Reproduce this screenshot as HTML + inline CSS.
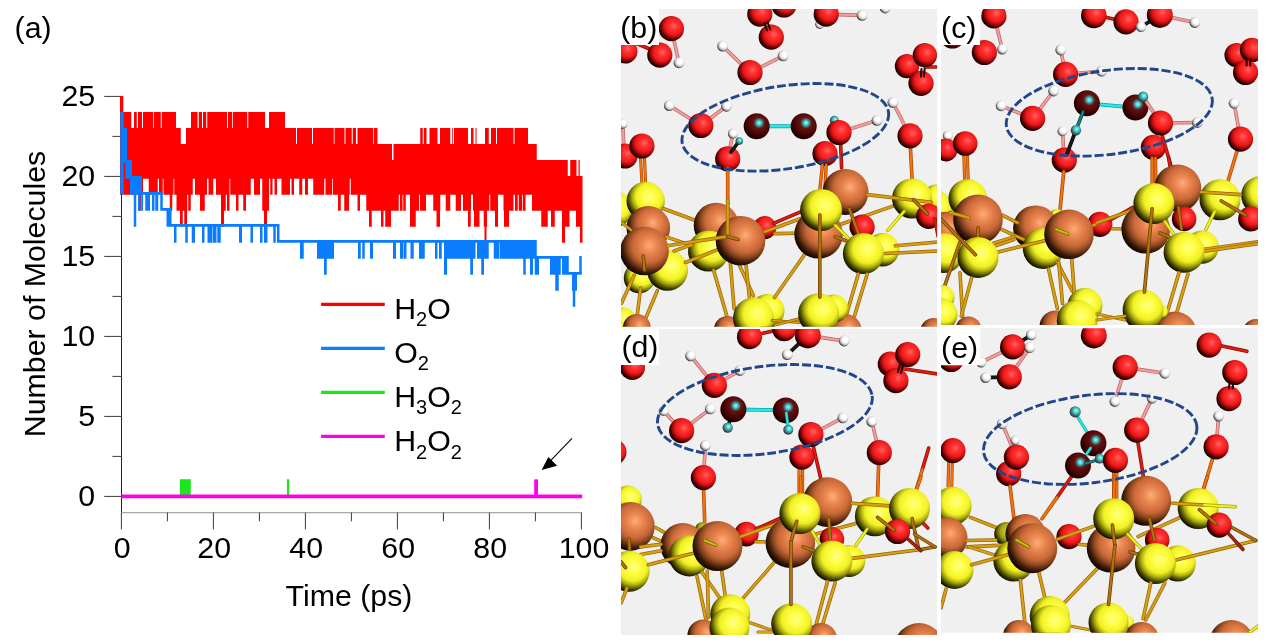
<!DOCTYPE html>
<html><head><meta charset="utf-8"><title>Figure</title>
<style>html,body{margin:0;padding:0;background:#fff}svg{display:block}text{font-family:"Liberation Sans",Arial,sans-serif;fill:#000}</style>
</head><body>
<svg width="1267" height="644" viewBox="0 0 1267 644">
<rect width="1267" height="644" fill="#ffffff"/>
<defs>
<radialGradient id="gO" cx="0.6" cy="0.39" r="0.63" fx="0.6" fy="0.39"><stop offset="0" stop-color="#ff6464"/><stop offset="0.25" stop-color="#ff3232"/><stop offset="0.55" stop-color="#ee1a1a"/><stop offset="0.71" stop-color="#ac0c0c"/><stop offset="0.87" stop-color="#4c0000"/><stop offset="1" stop-color="#100000"/></radialGradient>
<radialGradient id="gS" cx="0.6" cy="0.39" r="0.63" fx="0.6" fy="0.39"><stop offset="0" stop-color="#ffff8c"/><stop offset="0.25" stop-color="#ffff48"/><stop offset="0.55" stop-color="#f0f024"/><stop offset="0.71" stop-color="#acac10"/><stop offset="0.87" stop-color="#4c4c00"/><stop offset="1" stop-color="#101000"/></radialGradient>
<radialGradient id="gS3" cx="0.6" cy="0.39" r="0.63" fx="0.6" fy="0.39"><stop offset="0" stop-color="#dcdc40"/><stop offset="0.25" stop-color="#c6c628"/><stop offset="0.55" stop-color="#a2a216"/><stop offset="0.71" stop-color="#6e6e08"/><stop offset="0.87" stop-color="#303000"/><stop offset="1" stop-color="#0c0c00"/></radialGradient>
<radialGradient id="gC" cx="0.6" cy="0.39" r="0.63" fx="0.6" fy="0.39"><stop offset="0" stop-color="#ffac7c"/><stop offset="0.25" stop-color="#ea864e"/><stop offset="0.55" stop-color="#c86838"/><stop offset="0.71" stop-color="#8e4820"/><stop offset="0.87" stop-color="#3e1c08"/><stop offset="1" stop-color="#100600"/></radialGradient>
<radialGradient id="gH" cx="0.6" cy="0.39" r="0.63" fx="0.6" fy="0.39"><stop offset="0" stop-color="#ffffff"/><stop offset="0.3" stop-color="#ffffff"/><stop offset="0.5" stop-color="#f0f0f0"/><stop offset="0.7" stop-color="#c4c4c4"/><stop offset="0.88" stop-color="#707070"/><stop offset="1" stop-color="#202020"/></radialGradient>
<radialGradient id="gD" cx="0.59" cy="0.37" r="0.72" fx="0.59" fy="0.37"><stop offset="0" stop-color="#80ffff"/><stop offset="0.08" stop-color="#60e2e2"/><stop offset="0.18" stop-color="#408e8e"/><stop offset="0.3" stop-color="#621414"/><stop offset="0.6" stop-color="#4c0404"/><stop offset="0.84" stop-color="#1e0000"/><stop offset="1" stop-color="#000000"/></radialGradient>
<radialGradient id="gY" cx="0.58" cy="0.40" r="0.68" fx="0.58" fy="0.40"><stop offset="0" stop-color="#a8ffff"/><stop offset="0.22" stop-color="#48ecec"/><stop offset="0.45" stop-color="#4aa4a4"/><stop offset="0.72" stop-color="#405858"/><stop offset="1" stop-color="#101818"/></radialGradient>
</defs>
<g stroke="#3c3c3c" stroke-width="1" fill="none" shape-rendering="auto">
<path d="M121.5 96V512.6" stroke="#222"/>
<path d="M121 512.6H581.6" stroke="#a8a8a8" stroke-width="1.2"/>
<path d="M121.5 496.40H104.2M121.5 456.40H112.4M121.5 416.40H104.2M121.5 376.40H112.4M121.5 336.40H104.2M121.5 296.40H112.4M121.5 256.40H104.2M121.5 216.40H112.4M121.5 176.40H104.2M121.5 136.40H112.4M121.5 96.40H104.2"/>
<path d="M121.40 512.6V529.4M167.40 512.6V521.3M213.40 512.6V529.4M259.40 512.6V521.3M305.40 512.6V529.4M351.40 512.6V521.3M397.40 512.6V529.4M443.40 512.6V521.3M489.40 512.6V529.4M535.40 512.6V521.3M581.40 512.6V529.4"/>
</g>
<path d="M120.00 95.95V95.95H123.25V111.95H131.25V127.95H134.00V111.95H136.75V127.95H138.00V111.95H142.00V127.95H143.00V111.95H153.00V127.95H153.75V111.95H160.75V127.95H161.75V111.95H176.00V127.95H180.75V143.95H186.00V127.95H191.00V111.95H197.50V127.95H198.75V111.95H202.00V127.95H203.00V111.95H206.25V127.95H207.25V111.95H227.00V127.95H228.00V111.95H232.25V127.95H233.00V111.95H247.25V127.95H248.25V111.95H265.00V127.95H269.00V111.95H285.00V127.95H296.00V143.95H297.00V127.95H312.00V143.95H313.00V127.95H333.75V143.95H334.50V127.95H344.50V143.95H345.50V127.95H351.75V143.95H352.75V127.95H356.00V143.95H357.50V127.95H373.00V143.95H373.75V127.95H377.50V143.95H392.00V159.95H393.50V143.95H420.25V127.95H422.75V143.95H423.75V127.95H426.50V143.95H429.50V127.95H437.50V143.95H440.00V127.95H450.25V143.95H452.00V127.95H452.75V143.95H454.00V127.95H468.00V143.95H471.00V127.95H473.50V143.95H475.50V127.95H476.50V143.95H485.00V127.95H488.75V143.95H491.00V127.95H496.00V143.95H497.00V127.95H513.50V143.95H514.50V127.95H528.00V143.95H536.75V159.95H567.75V175.95H570.25V159.95H576.50V175.95H578.50V159.95H579.75V175.95H582.50V242.65H580.00V226.65H576.00V210.65H569.50V226.65H565.00V242.65H562.00V210.65H554.75V226.65H551.00V210.65H547.75V226.65H541.25V210.65H532.00V194.65H525.50V210.65H523.00V194.65H522.25V210.65H518.75V194.65H517.75V210.65H515.00V194.65H513.50V210.65H509.00V226.65H504.00V210.65H503.50V194.65H498.00V226.65H495.00V210.65H490.25V194.65H489.25V210.65H487.00V226.65H486.50V242.65H484.50V226.65H483.75V210.65H479.50V226.65H474.00V210.65H473.00V194.65H471.00V210.65H470.75V226.65H468.00V210.65H463.00V194.65H461.00V210.65H455.75V194.65H450.25V210.65H445.75V194.65H440.25V210.65H440.00V226.65H436.50V210.65H433.25V194.65H426.00V210.65H420.00V194.65H419.00V210.65H415.75V226.65H410.00V194.65H405.75V210.65H403.25V194.65H402.50V210.65H400.00V194.65H398.75V210.65H391.00V226.65H385.25V210.65H383.50V226.65H381.00V210.65H371.75V226.65H369.00V210.65H366.25V194.65H360.00V210.65H357.50V194.65H350.75V178.65H349.75V194.65H349.00V210.65H344.25V194.65H340.75V210.65H338.00V194.65H332.75V178.65H332.00V194.65H325.50V178.65H324.25V194.65H313.25V178.65H308.00V194.65H305.00V178.65H302.25V194.65H299.25V178.65H294.00V194.65H291.50V178.65H290.00V194.65H281.50V178.65H277.00V194.65H274.50V178.65H272.50V194.65H270.25V178.65H269.00V210.65H267.00V226.65H264.00V210.65H262.25V178.65H260.00V194.65H254.00V178.65H250.75V194.65H246.00V210.65H243.25V194.65H238.50V210.65H236.00V194.65H230.25V178.65H229.50V210.65H227.00V194.65H225.75V210.65H224.00V226.65H221.00V194.65H216.00V178.65H213.25V194.65H208.50V178.65H207.00V194.65H204.75V210.65H200.00V194.65H195.00V178.65H192.75V194.65H190.75V210.65H188.25V194.65H187.25V210.65H187.00V226.65H184.25V210.65H182.75V226.65H180.00V210.65H176.50V194.65H174.25V178.65H173.50V194.65H172.25V210.65H169.75V194.65H163.50V178.65H162.75V194.65H159.00V178.65H157.75V194.65H148.75V178.65H143.00V194.65H141.25V210.65H138.00V194.65H120.00Z" fill="#ff0000"/>
<path d="M120.25 112.00V112.00H123.75V128.00H127.00V160.00H132.00V176.00H142.00V192.00H162.75V208.00H171.50V224.00H279.50V240.00H536.75V256.00H568.75V272.00H579.25V256.00H581.75V274.80H577.00V290.80H575.25V306.80H572.75V290.80H572.00V274.80H562.00V258.80H560.75V274.80H558.75V290.80H555.25V274.80H550.00V258.80H539.00V274.80H534.75V258.80H533.00V274.80H530.00V258.80H525.75V274.80H523.25V258.80H499.75V242.80H499.25V258.80H493.75V242.80H488.75V258.80H484.00V274.80H481.25V258.80H477.00V242.80H475.50V258.80H473.00V274.80H470.25V258.80H447.00V274.80H444.00V242.80H441.75V258.80H439.00V242.80H437.50V258.80H435.00V242.80H424.75V258.80H419.00V242.80H413.75V258.80H410.50V242.80H406.50V258.80H403.75V242.80H403.25V258.80H400.00V242.80H396.00V258.80H393.00V242.80H373.00V258.80H370.00V242.80H364.75V258.80H362.25V242.80H360.75V258.80H358.00V242.80H334.00V258.80H326.75V274.80H324.00V258.80H317.00V242.80H303.75V258.80H300.00V242.80H277.00V226.80H275.75V242.80H273.25V226.80H267.50V242.80H264.00V226.80H262.50V242.80H260.00V226.80H253.00V242.80H250.50V226.80H242.00V242.80H239.00V226.80H220.75V242.80H217.25V226.80H216.50V242.80H213.00V226.80H212.50V242.80H207.50V226.80H204.50V242.80H202.00V226.80H195.00V242.80H191.75V226.80H187.75V242.80H185.25V226.80H176.50V242.80H174.00V226.80H166.50V210.80H160.25V194.80H158.25V210.80H155.25V194.80H154.50V210.80H152.00V194.80H150.00V210.80H145.25V194.80H143.00V210.80H141.25V194.80H140.50V210.80H138.00V194.80H136.25V226.80H133.75V194.80H130.00V178.80H125.25V162.80H123.75V194.80H120.25Z" fill="#0a7dff"/>
<path d="M179.8 479.2H190.8V496H179.8Z" fill="#1ee61e"/>
<path d="M286.9 479.2H289.2V496H286.9Z" fill="#1ee61e"/>
<path d="M121.4 494.6H582.2V498.3H121.4Z" fill="#ff00ea"/>
<path d="M534.2 480.2Q534.2 479.2 535.2 479.2H537Q538 479.2 538 480.2V496H534.2Z" fill="#ff00ea"/>
<path d="M321.1 304.4H384.8" stroke="#ff0000" stroke-width="3.2"/>
<path d="M321.1 348.4H384.8" stroke="#0a7dff" stroke-width="3.2"/>
<path d="M321.1 392.4H384.8" stroke="#1ee61e" stroke-width="3.2"/>
<path d="M321.1 436.4H384.8" stroke="#ff00ea" stroke-width="3.2"/>
<text x="394.2" y="318.8" font-family="Liberation Sans, Arial, sans-serif" font-size="30.3" fill="#000"><tspan>H</tspan><tspan font-size="20.0" dy="7.6">2</tspan><tspan dy="-7.6">O</tspan></text>
<text x="394.2" y="362.8" font-family="Liberation Sans, Arial, sans-serif" font-size="30.3" fill="#000"><tspan>O</tspan><tspan font-size="20.0" dy="7.6">2</tspan></text>
<text x="394.2" y="406.8" font-family="Liberation Sans, Arial, sans-serif" font-size="30.3" fill="#000"><tspan>H</tspan><tspan font-size="20.0" dy="7.6">3</tspan><tspan dy="-7.6">O</tspan><tspan font-size="20.0" dy="7.6">2</tspan></text>
<text x="394.2" y="451.0" font-family="Liberation Sans, Arial, sans-serif" font-size="30.3" fill="#000"><tspan>H</tspan><tspan font-size="20.0" dy="7.6">2</tspan><tspan dy="-7.6">O</tspan><tspan font-size="20.0" dy="7.6">2</tspan></text>
<text x="95.2" y="506.1" text-anchor="end" font-family="Liberation Sans, Arial, sans-serif" font-size="30.3">0</text>
<text x="95.2" y="426.1" text-anchor="end" font-family="Liberation Sans, Arial, sans-serif" font-size="30.3">5</text>
<text x="95.2" y="346.1" text-anchor="end" font-family="Liberation Sans, Arial, sans-serif" font-size="30.3">10</text>
<text x="95.2" y="266.1" text-anchor="end" font-family="Liberation Sans, Arial, sans-serif" font-size="30.3">15</text>
<text x="95.2" y="186.1" text-anchor="end" font-family="Liberation Sans, Arial, sans-serif" font-size="30.3">20</text>
<text x="95.2" y="106.1" text-anchor="end" font-family="Liberation Sans, Arial, sans-serif" font-size="30.3">25</text>
<text x="122.2" y="557.6" text-anchor="middle" font-family="Liberation Sans, Arial, sans-serif" font-size="30.3">0</text>
<text x="214.2" y="557.6" text-anchor="middle" font-family="Liberation Sans, Arial, sans-serif" font-size="30.3">20</text>
<text x="306.2" y="557.6" text-anchor="middle" font-family="Liberation Sans, Arial, sans-serif" font-size="30.3">40</text>
<text x="398.2" y="557.6" text-anchor="middle" font-family="Liberation Sans, Arial, sans-serif" font-size="30.3">60</text>
<text x="490.2" y="557.6" text-anchor="middle" font-family="Liberation Sans, Arial, sans-serif" font-size="30.3">80</text>
<text x="584.0" y="557.6" text-anchor="middle" font-family="Liberation Sans, Arial, sans-serif" font-size="30.3">100</text>
<text x="349" y="605.6" text-anchor="middle" font-family="Liberation Sans, Arial, sans-serif" font-size="30.3">Time (ps)</text>
<text transform="translate(44.5 294) rotate(-90)" text-anchor="middle" font-family="Liberation Sans, Arial, sans-serif" font-size="30.3">Number of Molecules</text>
<text x="14.6" y="37.6" font-family="Liberation Sans, Arial, sans-serif" font-size="30.3">(a)</text>
<path d="M572 438.4L548 463.4" stroke="#000" stroke-width="1.1"/>
<path d="M541.6 470L548.4 457L557.1 465.7Z" fill="#000"/>
<clipPath id="cpb"><rect x="621.0" y="9.0" width="316.1" height="317.8"/></clipPath>
<rect x="621.0" y="9.0" width="316.1" height="317.8" fill="#f0f0f0"/>
<g clip-path="url(#cpb)">
<path d="M632.0 41.5L653.0 50.5" stroke="#8e0a02" stroke-width="3.6" stroke-linecap="round"/><path d="M632.0 41.5L653.0 50.5" stroke="#da1c12" stroke-width="2.2" stroke-linecap="round"/>
<circle cx="625.2" cy="51.2" r="12.3" fill="url(#gO)"/>
<path d="M673.0 36.0L679.0 62.8" stroke="#b86464" stroke-width="3.6" stroke-linecap="round"/><path d="M673.0 36.0L679.0 62.8" stroke="#f59c9c" stroke-width="2.2" stroke-linecap="round"/>
<circle cx="671.4" cy="28.7" r="12.6" fill="url(#gO)"/>
<circle cx="659.8" cy="55.1" r="12.6" fill="url(#gO)"/>
<circle cx="679.0" cy="62.8" r="5.4" fill="url(#gH)"/>
<path d="M722.6 46.1L750.0 72.5" stroke="#b86464" stroke-width="3.6" stroke-linecap="round"/><path d="M722.6 46.1L750.0 72.5" stroke="#f59c9c" stroke-width="2.2" stroke-linecap="round"/>
<path d="M750.0 72.5L783.2 55.9" stroke="#b86464" stroke-width="3.6" stroke-linecap="round"/><path d="M750.0 72.5L783.2 55.9" stroke="#f59c9c" stroke-width="2.2" stroke-linecap="round"/>
<circle cx="722.6" cy="46.1" r="5.4" fill="url(#gH)"/>
<circle cx="783.2" cy="55.9" r="5.4" fill="url(#gH)"/>
<circle cx="750.0" cy="72.5" r="12.6" fill="url(#gO)"/>
<circle cx="759.8" cy="14.1" r="12.6" fill="url(#gO)"/>
<circle cx="771.3" cy="37.2" r="12.6" fill="url(#gO)"/>
<path d="M764.6 23.5L767.0 30.5" stroke="#160000" stroke-width="2.0" stroke-linecap="round"/><path d="M764.6 23.5L767.0 30.5" stroke="#3a0404" stroke-width="1.2" stroke-linecap="round"/>
<path d="M767.8 22.5L770.2 29.5" stroke="#160000" stroke-width="2.0" stroke-linecap="round"/><path d="M767.8 22.5L770.2 29.5" stroke="#3a0404" stroke-width="1.2" stroke-linecap="round"/>
<circle cx="784.0" cy="5.0" r="12.6" fill="url(#gO)"/>
<circle cx="819.8" cy="24.3" r="4.6" fill="url(#gH)"/>
<path d="M826.2 14.1L862.1 15.4" stroke="#b86464" stroke-width="3.6" stroke-linecap="round"/><path d="M826.2 14.1L862.1 15.4" stroke="#f59c9c" stroke-width="2.2" stroke-linecap="round"/>
<circle cx="826.2" cy="14.1" r="12.6" fill="url(#gO)"/>
<circle cx="862.1" cy="15.4" r="5.4" fill="url(#gH)"/>
<circle cx="885.2" cy="8.0" r="5.4" fill="url(#gH)"/>
<path d="M925.0 67.0L938.0 67.0" stroke="#8e0a02" stroke-width="3.6" stroke-linecap="round"/><path d="M925.0 67.0L938.0 67.0" stroke="#da1c12" stroke-width="2.2" stroke-linecap="round"/>
<circle cx="907.0" cy="66.1" r="12.2" fill="url(#gO)"/>
<circle cx="924.9" cy="55.1" r="12.2" fill="url(#gO)"/>
<circle cx="921.0" cy="83.3" r="12.6" fill="url(#gO)"/>
<path d="M921.5 69.0L921.0 76.5" stroke="#160000" stroke-width="2.0" stroke-linecap="round"/><path d="M921.5 69.0L921.0 76.5" stroke="#3a0404" stroke-width="1.2" stroke-linecap="round"/>
<path d="M924.6 69.0L924.1 76.5" stroke="#160000" stroke-width="2.0" stroke-linecap="round"/><path d="M924.6 69.0L924.1 76.5" stroke="#3a0404" stroke-width="1.2" stroke-linecap="round"/>
<path d="M622.7 123.7L624.0 150.0" stroke="#b86464" stroke-width="3.6" stroke-linecap="round"/><path d="M622.7 123.7L624.0 150.0" stroke="#f59c9c" stroke-width="2.2" stroke-linecap="round"/>
<circle cx="625.0" cy="156.0" r="12.6" fill="url(#gO)"/>
<circle cx="622.7" cy="123.7" r="5.0" fill="url(#gH)"/>
<path d="M640.6 158.0L642.0 185.0" stroke="#a84404" stroke-width="3.1" stroke-linecap="round"/><path d="M640.6 158.0L642.0 185.0" stroke="#f07410" stroke-width="1.9" stroke-linecap="round"/>
<path d="M644.5 158.0L645.7 185.0" stroke="#a84404" stroke-width="3.1" stroke-linecap="round"/><path d="M644.5 158.0L645.7 185.0" stroke="#f07410" stroke-width="1.9" stroke-linecap="round"/>
<circle cx="641.9" cy="146.0" r="12.6" fill="url(#gO)"/>
<path d="M669.3 105.6L700.8 125.5" stroke="#b86464" stroke-width="3.6" stroke-linecap="round"/><path d="M669.3 105.6L700.8 125.5" stroke="#f59c9c" stroke-width="2.2" stroke-linecap="round"/>
<path d="M726.5 106.3L700.8 125.5" stroke="#b86464" stroke-width="3.6" stroke-linecap="round"/><path d="M726.5 106.3L700.8 125.5" stroke="#f59c9c" stroke-width="2.2" stroke-linecap="round"/>
<circle cx="669.3" cy="105.6" r="5.4" fill="url(#gH)"/>
<circle cx="700.8" cy="125.5" r="12.6" fill="url(#gO)"/>
<circle cx="726.5" cy="106.3" r="5.4" fill="url(#gH)"/>
<path d="M756.7 126.3L803.7 126.3" stroke="#10a0a0" stroke-width="4.1" stroke-linecap="round"/><path d="M756.7 126.3L803.7 126.3" stroke="#24eaea" stroke-width="2.4" stroke-linecap="round"/>
<circle cx="756.7" cy="126.3" r="13.0" fill="url(#gD)"/>
<circle cx="803.7" cy="126.3" r="13.0" fill="url(#gD)"/>
<path d="M727.7 158.9L732.9 133.7" stroke="#b86464" stroke-width="3.6" stroke-linecap="round"/><path d="M727.7 158.9L732.9 133.7" stroke="#f59c9c" stroke-width="2.2" stroke-linecap="round"/>
<circle cx="727.7" cy="158.9" r="12.6" fill="url(#gO)"/>
<circle cx="732.9" cy="133.7" r="5.0" fill="url(#gH)"/>
<path d="M731.0 152.0L739.3 141.0" stroke="#000000" stroke-width="3.6" stroke-linecap="round"/><path d="M731.0 152.0L739.3 141.0" stroke="#1a1a1a" stroke-width="2.2" stroke-linecap="round"/>
<circle cx="739.3" cy="141.0" r="3.8" fill="url(#gY)"/>
<circle cx="825.0" cy="153.7" r="12.6" fill="url(#gO)"/>
<circle cx="834.4" cy="120.4" r="4.6" fill="url(#gY)"/>
<path d="M839.0 132.5L877.0 120.4" stroke="#b86464" stroke-width="3.6" stroke-linecap="round"/><path d="M839.0 132.5L877.0 120.4" stroke="#f59c9c" stroke-width="2.2" stroke-linecap="round"/>
<path d="M840.5 140.0L841.6 168.0" stroke="#8e0a02" stroke-width="3.6" stroke-linecap="round"/><path d="M840.5 140.0L841.6 168.0" stroke="#da1c12" stroke-width="2.2" stroke-linecap="round"/>
<circle cx="839.0" cy="132.5" r="12.6" fill="url(#gO)"/>
<circle cx="877.0" cy="120.4" r="5.4" fill="url(#gH)"/>
<path d="M892.9 102.5L910.0 135.8" stroke="#b86464" stroke-width="3.6" stroke-linecap="round"/><path d="M892.9 102.5L910.0 135.8" stroke="#f59c9c" stroke-width="2.2" stroke-linecap="round"/>
<path d="M910.0 140.0L912.1 180.0" stroke="#a84404" stroke-width="3.6" stroke-linecap="round"/><path d="M910.0 140.0L912.1 180.0" stroke="#f07410" stroke-width="2.2" stroke-linecap="round"/>
<circle cx="910.0" cy="135.8" r="12.6" fill="url(#gO)"/>
<circle cx="892.9" cy="102.5" r="5.4" fill="url(#gH)"/>
<path d="M727.7 168.0L727.7 205.0" stroke="#a84404" stroke-width="3.6" stroke-linecap="round"/><path d="M727.7 168.0L727.7 205.0" stroke="#f07410" stroke-width="2.2" stroke-linecap="round"/>
<circle cx="614.5" cy="209.0" r="18.2" fill="url(#gS)"/>
<circle cx="645.7" cy="201.0" r="19.2" fill="url(#gS)"/>
<path d="M663.7 208.7L698.3 221.5" stroke="#94640a" stroke-width="3.6" stroke-linecap="round"/><path d="M663.7 208.7L698.3 221.5" stroke="#d6a012" stroke-width="2.2" stroke-linecap="round"/>
<circle cx="648.3" cy="227.9" r="21.8" fill="url(#gC)"/>
<circle cx="764.7" cy="227.6" r="11.6" fill="url(#gO)"/>
<circle cx="716.2" cy="225.3" r="22.5" fill="url(#gC)"/>
<circle cx="639.3" cy="277.9" r="15.5" fill="url(#gS)"/>
<circle cx="667.5" cy="270.2" r="20.5" fill="url(#gS)"/>
<circle cx="708.5" cy="251.0" r="20.5" fill="url(#gS)"/>
<path d="M634.2 275.3L621.4 303.5" stroke="#94640a" stroke-width="3.6" stroke-linecap="round"/><path d="M634.2 275.3L621.4 303.5" stroke="#d6a012" stroke-width="2.2" stroke-linecap="round"/>
<path d="M640.6 288.1L636.8 318.9" stroke="#94640a" stroke-width="3.6" stroke-linecap="round"/><path d="M640.6 288.1L636.8 318.9" stroke="#d6a012" stroke-width="2.2" stroke-linecap="round"/>
<path d="M657.3 290.7L643.2 324.0" stroke="#94640a" stroke-width="3.6" stroke-linecap="round"/><path d="M657.3 290.7L643.2 324.0" stroke="#d6a012" stroke-width="2.2" stroke-linecap="round"/>
<path d="M713.6 270.2L727.7 318.9" stroke="#94640a" stroke-width="3.6" stroke-linecap="round"/><path d="M713.6 270.2L727.7 318.9" stroke="#d6a012" stroke-width="2.2" stroke-linecap="round"/>
<path d="M730.3 262.0L734.1 308.6" stroke="#94640a" stroke-width="3.6" stroke-linecap="round"/><path d="M730.3 262.0L734.1 308.6" stroke="#d6a012" stroke-width="2.2" stroke-linecap="round"/>
<path d="M738.0 262.0L753.4 295.8" stroke="#94640a" stroke-width="3.6" stroke-linecap="round"/><path d="M738.0 262.0L753.4 295.8" stroke="#d6a012" stroke-width="2.2" stroke-linecap="round"/>
<path d="M745.7 262.0L749.5 298.4" stroke="#94640a" stroke-width="3.6" stroke-linecap="round"/><path d="M745.7 262.0L749.5 298.4" stroke="#d6a012" stroke-width="2.2" stroke-linecap="round"/>
<path d="M666.2 236.9L691.9 245.8" stroke="#94640a" stroke-width="3.6" stroke-linecap="round"/><path d="M666.2 236.9L691.9 245.8" stroke="#d6a012" stroke-width="2.2" stroke-linecap="round"/>
<path d="M674.0 251.0L691.9 244.6" stroke="#94640a" stroke-width="3.6" stroke-linecap="round"/><path d="M674.0 251.0L691.9 244.6" stroke="#d6a012" stroke-width="2.2" stroke-linecap="round"/>
<path d="M685.5 262.5L717.5 249.7" stroke="#94640a" stroke-width="3.6" stroke-linecap="round"/><path d="M685.5 262.5L717.5 249.7" stroke="#d6a012" stroke-width="2.2" stroke-linecap="round"/>
<circle cx="644.5" cy="251.0" r="24.3" fill="url(#gC)"/>
<circle cx="740.5" cy="240.7" r="24.8" fill="url(#gC)"/>
<path d="M643.2 256.1L644.5 270.2" stroke="#6a3c02" stroke-width="3.6" stroke-linecap="round"/><path d="M643.2 256.1L644.5 270.2" stroke="#b07410" stroke-width="2.2" stroke-linecap="round"/>
<path d="M667.5 245.8L727.7 236.4" stroke="#94640a" stroke-width="3.6" stroke-linecap="round"/><path d="M667.5 245.8L727.7 236.4" stroke="#d6a012" stroke-width="2.2" stroke-linecap="round"/>
<path d="M727.7 200.0L727.7 236.4" stroke="#94640a" stroke-width="3.6" stroke-linecap="round"/><path d="M727.7 200.0L727.7 236.4" stroke="#d6a012" stroke-width="2.2" stroke-linecap="round"/>
<path d="M727.7 236.4L738.0 239.4" stroke="#6a3c02" stroke-width="3.6" stroke-linecap="round"/><path d="M727.7 236.4L738.0 239.4" stroke="#b07410" stroke-width="2.2" stroke-linecap="round"/>
<path d="M621.0 222.0L631.0 230.0" stroke="#94640a" stroke-width="3.1" stroke-linecap="round"/><path d="M621.0 222.0L631.0 230.0" stroke="#d6a012" stroke-width="1.9" stroke-linecap="round"/>
<circle cx="622.7" cy="321.4" r="14.0" fill="url(#gS)"/>
<circle cx="636.8" cy="328.0" r="14.0" fill="url(#gC)"/>
<circle cx="727.7" cy="330.0" r="14.0" fill="url(#gC)"/>
<circle cx="767.5" cy="311.0" r="17.0" fill="url(#gS)"/>
<circle cx="753.5" cy="318.0" r="20.5" fill="url(#gS)"/>
<path d="M772.0 320.5L800.0 322.5" stroke="#94640a" stroke-width="2.9" stroke-linecap="round"/><path d="M772.0 320.5L800.0 322.5" stroke="#d6a012" stroke-width="1.7" stroke-linecap="round"/>
<path d="M775.0 325.0L800.0 318.5" stroke="#94640a" stroke-width="2.9" stroke-linecap="round"/><path d="M775.0 325.0L800.0 318.5" stroke="#d6a012" stroke-width="1.7" stroke-linecap="round"/>
<path d="M773.5 223.4L800.5 211.8" stroke="#8e0a02" stroke-width="3.6" stroke-linecap="round"/><path d="M773.5 223.4L800.5 211.8" stroke="#da1c12" stroke-width="2.2" stroke-linecap="round"/>
<path d="M764.7 231.8L801.5 218.3" stroke="#94640a" stroke-width="3.6" stroke-linecap="round"/><path d="M764.7 231.8L801.5 218.3" stroke="#d6a012" stroke-width="2.2" stroke-linecap="round"/>
<path d="M774.9 233.6L794.0 233.2" stroke="#94640a" stroke-width="3.6" stroke-linecap="round"/><path d="M774.9 233.6L794.0 233.2" stroke="#d6a012" stroke-width="2.2" stroke-linecap="round"/>
<path d="M807.0 251.0L774.5 297.5" stroke="#94640a" stroke-width="3.6" stroke-linecap="round"/><path d="M807.0 251.0L774.5 297.5" stroke="#d6a012" stroke-width="2.2" stroke-linecap="round"/>
<circle cx="818.6" cy="234.3" r="24.3" fill="url(#gC)"/>
<path d="M822.4 165.0L819.8 190.7" stroke="#a84404" stroke-width="3.4" stroke-linecap="round"/><path d="M822.4 165.0L819.8 190.7" stroke="#f07410" stroke-width="2.0" stroke-linecap="round"/>
<path d="M826.2 165.0L825.0 188.2" stroke="#a84404" stroke-width="3.4" stroke-linecap="round"/><path d="M826.2 165.0L825.0 188.2" stroke="#f07410" stroke-width="2.0" stroke-linecap="round"/>
<circle cx="845.5" cy="192.0" r="23.0" fill="url(#gC)"/>
<path d="M841.6 224.0L892.9 206.1" stroke="#94640a" stroke-width="3.6" stroke-linecap="round"/><path d="M841.6 224.0L892.9 206.1" stroke="#d6a012" stroke-width="2.2" stroke-linecap="round"/>
<circle cx="862.1" cy="227.1" r="12.6" fill="url(#gO)"/>
<path d="M849.3 208.7L858.3 233.0" stroke="#6a3c02" stroke-width="3.6" stroke-linecap="round"/><path d="M849.3 208.7L858.3 233.0" stroke="#b07410" stroke-width="2.2" stroke-linecap="round"/>
<circle cx="882.6" cy="249.7" r="16.7" fill="url(#gS)"/>
<circle cx="821.1" cy="210.0" r="21.0" fill="url(#gS)"/>
<path d="M835.2 236.9L849.3 242.0" stroke="#6a3c02" stroke-width="3.6" stroke-linecap="round"/><path d="M835.2 236.9L849.3 242.0" stroke="#b07410" stroke-width="2.2" stroke-linecap="round"/>
<path d="M835.2 225.3L851.9 242.0" stroke="#a0a000" stroke-width="3.4" stroke-linecap="round"/><path d="M835.2 225.3L851.9 242.0" stroke="#f2f220" stroke-width="2.0" stroke-linecap="round"/>
<path d="M895.4 245.8L938.0 242.0" stroke="#94640a" stroke-width="3.6" stroke-linecap="round"/><path d="M895.4 245.8L938.0 242.0" stroke="#d6a012" stroke-width="2.2" stroke-linecap="round"/>
<path d="M885.2 253.5L938.0 251.0" stroke="#94640a" stroke-width="3.6" stroke-linecap="round"/><path d="M885.2 253.5L938.0 251.0" stroke="#d6a012" stroke-width="2.2" stroke-linecap="round"/>
<circle cx="863.4" cy="253.5" r="20.5" fill="url(#gS)"/>
<circle cx="936.4" cy="198.4" r="14.0" fill="url(#gS)"/>
<circle cx="912.0" cy="198.4" r="20.0" fill="url(#gS)"/>
<path d="M867.2 194.6L931.3 202.3" stroke="#94640a" stroke-width="3.6" stroke-linecap="round"/><path d="M867.2 194.6L931.3 202.3" stroke="#d6a012" stroke-width="2.2" stroke-linecap="round"/>
<path d="M887.7 230.5L904.4 211.2" stroke="#a0a000" stroke-width="3.4" stroke-linecap="round"/><path d="M887.7 230.5L904.4 211.2" stroke="#f2f220" stroke-width="2.0" stroke-linecap="round"/>
<circle cx="928.7" cy="216.4" r="12.6" fill="url(#gO)"/>
<path d="M913.4 199.7L927.4 213.8" stroke="#6a3c02" stroke-width="3.6" stroke-linecap="round"/><path d="M913.4 199.7L927.4 213.8" stroke="#b07410" stroke-width="2.2" stroke-linecap="round"/>
<path d="M935.0 219.0L938.0 236.0" stroke="#8e0a02" stroke-width="3.6" stroke-linecap="round"/><path d="M935.0 219.0L938.0 236.0" stroke="#da1c12" stroke-width="2.2" stroke-linecap="round"/>
<path d="M858.3 274.0L846.7 313.7" stroke="#94640a" stroke-width="3.6" stroke-linecap="round"/><path d="M858.3 274.0L846.7 313.7" stroke="#d6a012" stroke-width="2.2" stroke-linecap="round"/>
<path d="M867.2 274.0L854.4 316.3" stroke="#94640a" stroke-width="3.6" stroke-linecap="round"/><path d="M867.2 274.0L854.4 316.3" stroke="#d6a012" stroke-width="2.2" stroke-linecap="round"/>
<circle cx="845.5" cy="330.0" r="16.0" fill="url(#gC)"/>
<circle cx="934.0" cy="332.0" r="14.0" fill="url(#gC)"/>
<circle cx="834.0" cy="308.6" r="14.0" fill="url(#gS)"/>
<circle cx="818.6" cy="313.7" r="20.5" fill="url(#gS)"/>
<path d="M819.8 215.1L819.8 297.1" stroke="#6a3c02" stroke-width="3.6" stroke-linecap="round"/><path d="M819.8 215.1L819.8 297.1" stroke="#b07410" stroke-width="2.2" stroke-linecap="round"/>
<ellipse cx="785.3" cy="127.3" rx="104.3" ry="41.5" transform="rotate(-8.4 785.3 127.3)" fill="none" stroke="#23468a" stroke-width="2.9" stroke-dasharray="9 2.9"/>
</g>
<rect x="621.0" y="9.0" width="38.0" height="36.0" fill="#ffffff"/>
<text x="620.2" y="37.7" font-family="Liberation Sans, Arial, sans-serif" font-size="30.3">(b)</text>
<clipPath id="cpc"><rect x="941.0" y="9.0" width="317.1" height="316.0"/></clipPath>
<rect x="941.0" y="9.0" width="317.1" height="316.0" fill="#f0f0f0"/>
<g clip-path="url(#cpc)">
<circle cx="952.4" cy="36.0" r="12.6" fill="url(#gO)"/>
<path d="M996.0 24.0L1002.3 49.2" stroke="#b86464" stroke-width="3.6" stroke-linecap="round"/><path d="M996.0 24.0L1002.3 49.2" stroke="#f59c9c" stroke-width="2.2" stroke-linecap="round"/>
<circle cx="993.9" cy="15.9" r="12.6" fill="url(#gO)"/>
<circle cx="984.4" cy="52.5" r="12.6" fill="url(#gO)"/>
<circle cx="1002.3" cy="49.2" r="5.2" fill="url(#gH)"/>
<path d="M1100.0 16.0L1122.0 21.0" stroke="#8e0a02" stroke-width="3.6" stroke-linecap="round"/><path d="M1100.0 16.0L1122.0 21.0" stroke="#da1c12" stroke-width="2.2" stroke-linecap="round"/>
<circle cx="1093.8" cy="15.4" r="12.8" fill="url(#gO)"/>
<circle cx="1126.0" cy="21.8" r="12.6" fill="url(#gO)"/>
<path d="M1159.8 14.9L1141.0 26.9" stroke="#000000" stroke-width="3.6" stroke-linecap="round"/><path d="M1159.8 14.9L1141.0 26.9" stroke="#1a1a1a" stroke-width="2.2" stroke-linecap="round"/>
<path d="M1159.8 14.9L1194.9 22.5" stroke="#b86464" stroke-width="3.6" stroke-linecap="round"/><path d="M1159.8 14.9L1194.9 22.5" stroke="#f59c9c" stroke-width="2.2" stroke-linecap="round"/>
<circle cx="1159.8" cy="14.9" r="13.0" fill="url(#gO)"/>
<circle cx="1141.0" cy="26.9" r="5.2" fill="url(#gH)"/>
<circle cx="1194.9" cy="22.5" r="5.4" fill="url(#gH)"/>
<circle cx="1236.6" cy="55.1" r="12.2" fill="url(#gO)"/>
<circle cx="1252.0" cy="50.0" r="12.2" fill="url(#gO)"/>
<circle cx="1245.6" cy="72.5" r="12.6" fill="url(#gO)"/>
<path d="M1246.6 59.5L1246.6 65.5" stroke="#160000" stroke-width="2.0" stroke-linecap="round"/><path d="M1246.6 59.5L1246.6 65.5" stroke="#3a0404" stroke-width="1.2" stroke-linecap="round"/>
<path d="M1250.2 59.5L1250.2 65.5" stroke="#160000" stroke-width="2.0" stroke-linecap="round"/><path d="M1250.2 59.5L1250.2 65.5" stroke="#3a0404" stroke-width="1.2" stroke-linecap="round"/>
<circle cx="947.8" cy="135.8" r="5.0" fill="url(#gH)"/>
<circle cx="946.0" cy="149.9" r="11.5" fill="url(#gO)"/>
<path d="M963.8 152.0L964.6 182.0" stroke="#a84404" stroke-width="3.1" stroke-linecap="round"/><path d="M963.8 152.0L964.6 182.0" stroke="#f07410" stroke-width="1.9" stroke-linecap="round"/>
<path d="M967.2 152.0L968.3 182.0" stroke="#a84404" stroke-width="3.1" stroke-linecap="round"/><path d="M967.2 152.0L968.3 182.0" stroke="#f07410" stroke-width="1.9" stroke-linecap="round"/>
<circle cx="965.2" cy="143.5" r="12.3" fill="url(#gO)"/>
<path d="M1060.8 50.0L1065.6 74.3" stroke="#b86464" stroke-width="3.6" stroke-linecap="round"/><path d="M1060.8 50.0L1065.6 74.3" stroke="#f59c9c" stroke-width="2.2" stroke-linecap="round"/>
<path d="M1065.6 74.3L1101.6 71.2" stroke="#b86464" stroke-width="3.6" stroke-linecap="round"/><path d="M1065.6 74.3L1101.6 71.2" stroke="#f59c9c" stroke-width="2.2" stroke-linecap="round"/>
<circle cx="1060.8" cy="50.0" r="5.4" fill="url(#gH)"/>
<circle cx="1065.6" cy="74.3" r="12.6" fill="url(#gO)"/>
<circle cx="1101.6" cy="71.2" r="5.4" fill="url(#gH)"/>
<path d="M1001.1 105.8L1032.6 118.4" stroke="#b86464" stroke-width="3.6" stroke-linecap="round"/><path d="M1001.1 105.8L1032.6 118.4" stroke="#f59c9c" stroke-width="2.2" stroke-linecap="round"/>
<path d="M1053.6 91.0L1032.6 118.4" stroke="#b86464" stroke-width="3.6" stroke-linecap="round"/><path d="M1053.6 91.0L1032.6 118.4" stroke="#f59c9c" stroke-width="2.2" stroke-linecap="round"/>
<circle cx="1001.1" cy="105.8" r="5.4" fill="url(#gH)"/>
<circle cx="1032.6" cy="118.4" r="12.6" fill="url(#gO)"/>
<circle cx="1053.6" cy="91.0" r="5.4" fill="url(#gH)"/>
<path d="M1062.5 131.2L1064.3 160.1" stroke="#b86464" stroke-width="3.6" stroke-linecap="round"/><path d="M1062.5 131.2L1064.3 160.1" stroke="#f59c9c" stroke-width="2.2" stroke-linecap="round"/>
<circle cx="1064.3" cy="160.1" r="12.6" fill="url(#gO)"/>
<circle cx="1062.5" cy="131.2" r="5.0" fill="url(#gH)"/>
<path d="M1086.9 103.3L1135.4 107.6" stroke="#10a0a0" stroke-width="3.8" stroke-linecap="round"/><path d="M1086.9 103.3L1135.4 107.6" stroke="#24eaea" stroke-width="2.3" stroke-linecap="round"/>
<circle cx="1086.9" cy="103.3" r="13.0" fill="url(#gD)"/>
<path d="M1083.0 112.0L1076.0 130.0" stroke="#0a4848" stroke-width="3.6" stroke-linecap="round"/><path d="M1083.0 112.0L1076.0 130.0" stroke="#128080" stroke-width="2.2" stroke-linecap="round"/>
<path d="M1076.0 130.0L1066.5 155.0" stroke="#000000" stroke-width="3.6" stroke-linecap="round"/><path d="M1076.0 130.0L1066.5 155.0" stroke="#1a1a1a" stroke-width="2.2" stroke-linecap="round"/>
<circle cx="1075.9" cy="130.2" r="5.2" fill="url(#gY)"/>
<circle cx="1153.4" cy="147.3" r="12.6" fill="url(#gO)"/>
<circle cx="1135.4" cy="107.6" r="13.0" fill="url(#gD)"/>
<path d="M1143.1 96.8L1160.5 123.0" stroke="#b86464" stroke-width="3.6" stroke-linecap="round"/><path d="M1143.1 96.8L1160.5 123.0" stroke="#f59c9c" stroke-width="2.2" stroke-linecap="round"/>
<circle cx="1143.1" cy="96.8" r="5.2" fill="url(#gY)"/>
<path d="M1160.5 123.0L1197.4 122.5" stroke="#b86464" stroke-width="3.6" stroke-linecap="round"/><path d="M1160.5 123.0L1197.4 122.5" stroke="#f59c9c" stroke-width="2.2" stroke-linecap="round"/>
<path d="M1162.0 135.0L1171.0 166.0" stroke="#8e0a02" stroke-width="3.6" stroke-linecap="round"/><path d="M1162.0 135.0L1171.0 166.0" stroke="#da1c12" stroke-width="2.2" stroke-linecap="round"/>
<circle cx="1160.5" cy="123.0" r="12.6" fill="url(#gO)"/>
<circle cx="1197.4" cy="122.5" r="5.4" fill="url(#gH)"/>
<path d="M1234.1 103.3L1240.5 139.1" stroke="#b86464" stroke-width="3.6" stroke-linecap="round"/><path d="M1234.1 103.3L1240.5 139.1" stroke="#f59c9c" stroke-width="2.2" stroke-linecap="round"/>
<path d="M1238.0 148.0L1227.7 182.0" stroke="#a84404" stroke-width="3.6" stroke-linecap="round"/><path d="M1238.0 148.0L1227.7 182.0" stroke="#f07410" stroke-width="2.2" stroke-linecap="round"/>
<circle cx="1240.5" cy="139.1" r="12.6" fill="url(#gO)"/>
<circle cx="1234.1" cy="103.3" r="5.4" fill="url(#gH)"/>
<path d="M1063.8 171.5L1060.0 210.0" stroke="#a84404" stroke-width="3.6" stroke-linecap="round"/><path d="M1063.8 171.5L1060.0 210.0" stroke="#f07410" stroke-width="2.2" stroke-linecap="round"/>
<circle cx="934.5" cy="208.0" r="18.2" fill="url(#gS)"/>
<circle cx="967.7" cy="198.4" r="19.2" fill="url(#gS)"/>
<circle cx="946.0" cy="231.7" r="20.0" fill="url(#gC)"/>
<circle cx="943.4" cy="253.0" r="20.0" fill="url(#gS)"/>
<circle cx="1056.5" cy="216.0" r="7.0" fill="url(#gS)"/>
<circle cx="1099.8" cy="224.3" r="12.6" fill="url(#gO)"/>
<circle cx="1035.6" cy="227.9" r="22.5" fill="url(#gC)"/>
<path d="M1002.3 215.1L1017.7 222.8" stroke="#94640a" stroke-width="3.6" stroke-linecap="round"/><path d="M1002.3 215.1L1017.7 222.8" stroke="#d6a012" stroke-width="2.2" stroke-linecap="round"/>
<path d="M1001.0 229.2L1029.2 242.0" stroke="#94640a" stroke-width="3.6" stroke-linecap="round"/><path d="M1001.0 229.2L1029.2 242.0" stroke="#d6a012" stroke-width="2.2" stroke-linecap="round"/>
<circle cx="978.0" cy="219.4" r="24.8" fill="url(#gC)"/>
<path d="M993.4 243.3L1013.9 236.9" stroke="#94640a" stroke-width="3.6" stroke-linecap="round"/><path d="M993.4 243.3L1013.9 236.9" stroke="#d6a012" stroke-width="2.2" stroke-linecap="round"/>
<path d="M993.4 246.5L1013.9 239.5" stroke="#94640a" stroke-width="3.6" stroke-linecap="round"/><path d="M993.4 246.5L1013.9 239.5" stroke="#d6a012" stroke-width="2.2" stroke-linecap="round"/>
<circle cx="1043.3" cy="248.4" r="20.5" fill="url(#gS)"/>
<path d="M997.2 252.2L1044.6 240.7" stroke="#94640a" stroke-width="3.6" stroke-linecap="round"/><path d="M997.2 252.2L1044.6 240.7" stroke="#d6a012" stroke-width="2.2" stroke-linecap="round"/>
<path d="M978.0 228.0L978.0 238.0" stroke="#6a3c02" stroke-width="3.6" stroke-linecap="round"/><path d="M978.0 228.0L978.0 238.0" stroke="#b07410" stroke-width="2.2" stroke-linecap="round"/>
<circle cx="978.0" cy="257.4" r="20.5" fill="url(#gS)"/>
<path d="M1048.5 268.9L1057.4 308.6" stroke="#94640a" stroke-width="3.6" stroke-linecap="round"/><path d="M1048.5 268.9L1057.4 308.6" stroke="#d6a012" stroke-width="2.2" stroke-linecap="round"/>
<path d="M1057.2 262.0L1072.4 291.2" stroke="#94640a" stroke-width="3.6" stroke-linecap="round"/><path d="M1057.2 262.0L1072.4 291.2" stroke="#d6a012" stroke-width="2.2" stroke-linecap="round"/>
<path d="M1058.7 262.0L1062.5 303.5" stroke="#94640a" stroke-width="3.6" stroke-linecap="round"/><path d="M1058.7 262.0L1062.5 303.5" stroke="#d6a012" stroke-width="2.2" stroke-linecap="round"/>
<path d="M1071.5 256.0L1074.9 301.0" stroke="#94640a" stroke-width="3.6" stroke-linecap="round"/><path d="M1071.5 256.0L1074.9 301.0" stroke="#d6a012" stroke-width="2.2" stroke-linecap="round"/>
<circle cx="1069.0" cy="234.3" r="24.8" fill="url(#gC)"/>
<path d="M1056.1 229.2L1067.7 233.8" stroke="#6a6400" stroke-width="3.6" stroke-linecap="round"/><path d="M1056.1 229.2L1067.7 233.8" stroke="#c4bc10" stroke-width="2.2" stroke-linecap="round"/>
<path d="M1093.3 225.3L1104.0 220.5" stroke="#94640a" stroke-width="3.6" stroke-linecap="round"/><path d="M1093.3 225.3L1104.0 220.5" stroke="#d6a012" stroke-width="2.2" stroke-linecap="round"/>
<path d="M949.8 212.5L969.0 217.6" stroke="#94640a" stroke-width="3.6" stroke-linecap="round"/><path d="M949.8 212.5L969.0 217.6" stroke="#d6a012" stroke-width="2.2" stroke-linecap="round"/>
<path d="M940.8 219.0L975.4 254.8" stroke="#6a3c02" stroke-width="3.6" stroke-linecap="round"/><path d="M940.8 219.0L975.4 254.8" stroke="#b07410" stroke-width="2.2" stroke-linecap="round"/>
<path d="M960.0 242.0L942.1 293.2" stroke="#6a3c02" stroke-width="3.6" stroke-linecap="round"/><path d="M960.0 242.0L942.1 293.2" stroke="#b07410" stroke-width="2.2" stroke-linecap="round"/>
<path d="M960.0 272.7L962.6 316.3" stroke="#94640a" stroke-width="3.6" stroke-linecap="round"/><path d="M960.0 272.7L962.6 316.3" stroke="#d6a012" stroke-width="2.2" stroke-linecap="round"/>
<path d="M971.6 277.9L961.3 316.3" stroke="#94640a" stroke-width="3.6" stroke-linecap="round"/><path d="M971.6 277.9L961.3 316.3" stroke="#d6a012" stroke-width="2.2" stroke-linecap="round"/>
<circle cx="942.0" cy="297.5" r="12.5" fill="url(#gS)"/>
<circle cx="941.5" cy="314.5" r="16.0" fill="url(#gS)"/>
<circle cx="968.5" cy="329.5" r="13.0" fill="url(#gC)"/>
<circle cx="1055.5" cy="326.5" r="16.0" fill="url(#gC)"/>
<circle cx="1085.0" cy="305.5" r="17.5" fill="url(#gS)"/>
<circle cx="1077.2" cy="320.3" r="20.4" fill="url(#gS)"/>
<path d="M1109.8 220.2L1132.9 207.4" stroke="#8e0a02" stroke-width="3.6" stroke-linecap="round"/><path d="M1109.8 220.2L1132.9 207.4" stroke="#da1c12" stroke-width="2.2" stroke-linecap="round"/>
<path d="M1097.0 222.8L1132.9 210.0" stroke="#94640a" stroke-width="3.6" stroke-linecap="round"/><path d="M1097.0 222.8L1132.9 210.0" stroke="#d6a012" stroke-width="2.2" stroke-linecap="round"/>
<path d="M1112.4 228.7L1123.0 228.7" stroke="#94640a" stroke-width="3.6" stroke-linecap="round"/><path d="M1112.4 228.7L1123.0 228.7" stroke="#d6a012" stroke-width="2.2" stroke-linecap="round"/>
<circle cx="1145.7" cy="229.2" r="24.3" fill="url(#gC)"/>
<path d="M1152.1 158.0L1152.1 184.3" stroke="#a84404" stroke-width="3.4" stroke-linecap="round"/><path d="M1152.1 158.0L1152.1 184.3" stroke="#f07410" stroke-width="2.0" stroke-linecap="round"/>
<path d="M1155.4 158.0L1155.9 184.3" stroke="#a84404" stroke-width="3.4" stroke-linecap="round"/><path d="M1155.4 158.0L1155.9 184.3" stroke="#f07410" stroke-width="2.0" stroke-linecap="round"/>
<path d="M1168.7 158.0L1170.0 166.0" stroke="#8e0a02" stroke-width="3.6" stroke-linecap="round"/><path d="M1168.7 158.0L1170.0 166.0" stroke="#da1c12" stroke-width="2.2" stroke-linecap="round"/>
<circle cx="1177.7" cy="188.2" r="23.6" fill="url(#gC)"/>
<circle cx="1184.1" cy="218.9" r="12.3" fill="url(#gO)"/>
<path d="M1178.5 207.4L1181.5 229.2" stroke="#6a3c02" stroke-width="3.6" stroke-linecap="round"/><path d="M1178.5 207.4L1181.5 229.2" stroke="#b07410" stroke-width="2.2" stroke-linecap="round"/>
<circle cx="1202.0" cy="247.1" r="16.7" fill="url(#gS)"/>
<circle cx="1153.9" cy="203.6" r="20.5" fill="url(#gS)"/>
<path d="M1159.8 233.0L1171.3 238.1" stroke="#6a3c02" stroke-width="3.6" stroke-linecap="round"/><path d="M1159.8 233.0L1171.3 238.1" stroke="#b07410" stroke-width="2.2" stroke-linecap="round"/>
<path d="M1164.9 221.5L1176.4 238.1" stroke="#a0a000" stroke-width="3.4" stroke-linecap="round"/><path d="M1164.9 221.5L1176.4 238.1" stroke="#f2f220" stroke-width="2.0" stroke-linecap="round"/>
<path d="M1204.6 249.2L1259.0 241.6" stroke="#94640a" stroke-width="3.6" stroke-linecap="round"/><path d="M1204.6 249.2L1259.0 241.6" stroke="#d6a012" stroke-width="2.2" stroke-linecap="round"/>
<path d="M1204.6 251.2L1259.0 243.6" stroke="#94640a" stroke-width="3.6" stroke-linecap="round"/><path d="M1204.6 251.2L1259.0 243.6" stroke="#d6a012" stroke-width="2.2" stroke-linecap="round"/>
<circle cx="1184.1" cy="252.2" r="20.5" fill="url(#gS)"/>
<circle cx="1260.5" cy="195.5" r="19.3" fill="url(#gS)"/>
<circle cx="1220.0" cy="199.7" r="20.5" fill="url(#gS)"/>
<path d="M1200.8 192.0L1240.5 194.6" stroke="#94640a" stroke-width="3.6" stroke-linecap="round"/><path d="M1200.8 192.0L1240.5 194.6" stroke="#d6a012" stroke-width="2.2" stroke-linecap="round"/>
<path d="M1214.9 211.2L1205.9 229.2" stroke="#a0a000" stroke-width="3.4" stroke-linecap="round"/><path d="M1214.9 211.2L1205.9 229.2" stroke="#f2f220" stroke-width="2.0" stroke-linecap="round"/>
<circle cx="1250.7" cy="218.9" r="12.6" fill="url(#gO)"/>
<path d="M1221.3 201.0L1245.6 215.1" stroke="#6a3c02" stroke-width="3.6" stroke-linecap="round"/><path d="M1221.3 201.0L1245.6 215.1" stroke="#b07410" stroke-width="2.2" stroke-linecap="round"/>
<path d="M1179.0 272.7L1167.5 311.2" stroke="#94640a" stroke-width="3.6" stroke-linecap="round"/><path d="M1179.0 272.7L1167.5 311.2" stroke="#d6a012" stroke-width="2.2" stroke-linecap="round"/>
<path d="M1188.0 274.0L1176.4 313.7" stroke="#94640a" stroke-width="3.6" stroke-linecap="round"/><path d="M1188.0 274.0L1176.4 313.7" stroke="#d6a012" stroke-width="2.2" stroke-linecap="round"/>
<circle cx="1175.0" cy="333.0" r="21.5" fill="url(#gC)"/>
<circle cx="1255.9" cy="332.0" r="13.0" fill="url(#gC)"/>
<circle cx="1161.0" cy="312.0" r="7.0" fill="url(#gS)"/>
<circle cx="1143.1" cy="309.9" r="20.5" fill="url(#gS)"/>
<path d="M1152.1 208.7L1144.4 292.0" stroke="#6a3c02" stroke-width="3.6" stroke-linecap="round"/><path d="M1152.1 208.7L1144.4 292.0" stroke="#b07410" stroke-width="2.2" stroke-linecap="round"/>
<path d="M1097.0 314.0L1125.0 320.0" stroke="#94640a" stroke-width="3.1" stroke-linecap="round"/><path d="M1097.0 314.0L1125.0 320.0" stroke="#d6a012" stroke-width="1.9" stroke-linecap="round"/>
<path d="M1097.0 320.0L1125.0 316.0" stroke="#94640a" stroke-width="3.1" stroke-linecap="round"/><path d="M1097.0 320.0L1125.0 316.0" stroke="#d6a012" stroke-width="1.9" stroke-linecap="round"/>
<ellipse cx="1109.3" cy="112.3" rx="103.8" ry="42.0" transform="rotate(-7.5 1109.3 112.3)" fill="none" stroke="#23468a" stroke-width="2.9" stroke-dasharray="9 2.9"/>
</g>
<rect x="941.0" y="9.0" width="39.0" height="36.0" fill="#ffffff"/>
<text x="941.1" y="37.7" font-family="Liberation Sans, Arial, sans-serif" font-size="30.3">(c)</text>
<clipPath id="cpd"><rect x="621.0" y="329.0" width="316.1" height="306.0"/></clipPath>
<rect x="621.0" y="329.0" width="316.1" height="306.0" fill="#f0f0f0"/>
<g clip-path="url(#cpd)">
<circle cx="632.4" cy="367.4" r="12.6" fill="url(#gO)"/>
<circle cx="613.5" cy="452.0" r="13.0" fill="url(#gO)"/>
<path d="M757.0 334.5L780.0 329.5" stroke="#8e0a02" stroke-width="3.6" stroke-linecap="round"/><path d="M757.0 334.5L780.0 329.5" stroke="#da1c12" stroke-width="2.2" stroke-linecap="round"/>
<circle cx="749.5" cy="336.7" r="12.6" fill="url(#gO)"/>
<circle cx="784.2" cy="329.3" r="12.0" fill="url(#gO)"/>
<path d="M807.8 335.4L787.3 354.6" stroke="#000000" stroke-width="3.6" stroke-linecap="round"/><path d="M807.8 335.4L787.3 354.6" stroke="#1a1a1a" stroke-width="2.2" stroke-linecap="round"/>
<path d="M807.8 335.4L844.2 341.0" stroke="#b86464" stroke-width="3.6" stroke-linecap="round"/><path d="M807.8 335.4L844.2 341.0" stroke="#f59c9c" stroke-width="2.2" stroke-linecap="round"/>
<circle cx="807.8" cy="335.4" r="13.0" fill="url(#gO)"/>
<circle cx="844.2" cy="341.0" r="5.4" fill="url(#gH)"/>
<circle cx="787.3" cy="354.6" r="5.4" fill="url(#gH)"/>
<path d="M903.0 368.7L938.0 374.0" stroke="#8e0a02" stroke-width="3.6" stroke-linecap="round"/><path d="M903.0 368.7L938.0 374.0" stroke="#da1c12" stroke-width="2.2" stroke-linecap="round"/>
<circle cx="890.3" cy="364.1" r="12.6" fill="url(#gO)"/>
<circle cx="907.7" cy="354.6" r="12.6" fill="url(#gO)"/>
<circle cx="895.9" cy="380.7" r="12.6" fill="url(#gO)"/>
<path d="M899.8 365.0L897.8 372.0" stroke="#160000" stroke-width="2.0" stroke-linecap="round"/><path d="M899.8 365.0L897.8 372.0" stroke="#3a0404" stroke-width="1.2" stroke-linecap="round"/>
<path d="M902.8 366.0L900.8 373.0" stroke="#160000" stroke-width="2.0" stroke-linecap="round"/><path d="M902.8 366.0L900.8 373.0" stroke="#3a0404" stroke-width="1.2" stroke-linecap="round"/>
<path d="M690.6 355.9L714.4 385.3" stroke="#b86464" stroke-width="3.6" stroke-linecap="round"/><path d="M690.6 355.9L714.4 385.3" stroke="#f59c9c" stroke-width="2.2" stroke-linecap="round"/>
<path d="M740.0 370.5L714.4 385.3" stroke="#b86464" stroke-width="3.6" stroke-linecap="round"/><path d="M740.0 370.5L714.4 385.3" stroke="#f59c9c" stroke-width="2.2" stroke-linecap="round"/>
<circle cx="690.6" cy="355.9" r="5.4" fill="url(#gH)"/>
<circle cx="714.4" cy="385.3" r="12.6" fill="url(#gO)"/>
<circle cx="740.0" cy="370.5" r="5.4" fill="url(#gH)"/>
<path d="M663.7 411.0L681.6 430.7" stroke="#b86464" stroke-width="3.6" stroke-linecap="round"/><path d="M663.7 411.0L681.6 430.7" stroke="#f59c9c" stroke-width="2.2" stroke-linecap="round"/>
<path d="M710.3 408.9L681.6 430.7" stroke="#b86464" stroke-width="3.6" stroke-linecap="round"/><path d="M710.3 408.9L681.6 430.7" stroke="#f59c9c" stroke-width="2.2" stroke-linecap="round"/>
<circle cx="663.7" cy="411.0" r="5.0" fill="url(#gH)"/>
<circle cx="681.6" cy="430.7" r="12.6" fill="url(#gO)"/>
<circle cx="710.3" cy="408.9" r="5.4" fill="url(#gH)"/>
<path d="M733.4 409.5L785.8 410.2" stroke="#10a0a0" stroke-width="3.8" stroke-linecap="round"/><path d="M733.4 409.5L785.8 410.2" stroke="#24eaea" stroke-width="2.3" stroke-linecap="round"/>
<path d="M733.4 409.2L727.7 427.6" stroke="#000000" stroke-width="3.6" stroke-linecap="round"/><path d="M733.4 409.2L727.7 427.6" stroke="#1a1a1a" stroke-width="2.2" stroke-linecap="round"/>
<circle cx="733.4" cy="409.2" r="13.0" fill="url(#gD)"/>
<circle cx="727.7" cy="427.6" r="5.2" fill="url(#gY)"/>
<circle cx="785.8" cy="410.4" r="13.0" fill="url(#gD)"/>
<path d="M786.3 413.0L788.3 428.0" stroke="#10a0a0" stroke-width="3.1" stroke-linecap="round"/><path d="M786.3 413.0L788.3 428.0" stroke="#24eaea" stroke-width="1.9" stroke-linecap="round"/>
<circle cx="788.3" cy="429.7" r="5.0" fill="url(#gY)"/>
<path d="M705.4 445.5L703.4 477.6" stroke="#b86464" stroke-width="3.6" stroke-linecap="round"/><path d="M705.4 445.5L703.4 477.6" stroke="#f59c9c" stroke-width="2.2" stroke-linecap="round"/>
<path d="M703.4 485.0L704.7 522.0" stroke="#a84404" stroke-width="3.6" stroke-linecap="round"/><path d="M703.4 485.0L704.7 522.0" stroke="#f07410" stroke-width="2.2" stroke-linecap="round"/>
<circle cx="703.4" cy="477.6" r="12.6" fill="url(#gO)"/>
<circle cx="705.4" cy="445.5" r="5.4" fill="url(#gH)"/>
<path d="M799.0 465.0L799.0 495.0" stroke="#a84404" stroke-width="3.1" stroke-linecap="round"/><path d="M799.0 465.0L799.0 495.0" stroke="#f07410" stroke-width="1.9" stroke-linecap="round"/>
<path d="M802.6 465.0L802.6 495.0" stroke="#a84404" stroke-width="3.1" stroke-linecap="round"/><path d="M802.6 465.0L802.6 495.0" stroke="#f07410" stroke-width="1.9" stroke-linecap="round"/>
<circle cx="801.9" cy="457.1" r="12.6" fill="url(#gO)"/>
<path d="M813.4 446.8L821.1 480.0" stroke="#8e0a02" stroke-width="3.6" stroke-linecap="round"/><path d="M813.4 446.8L821.1 480.0" stroke="#da1c12" stroke-width="2.2" stroke-linecap="round"/>
<path d="M810.9 434.5L842.9 417.9" stroke="#b86464" stroke-width="3.6" stroke-linecap="round"/><path d="M810.9 434.5L842.9 417.9" stroke="#f59c9c" stroke-width="2.2" stroke-linecap="round"/>
<circle cx="810.9" cy="434.5" r="12.6" fill="url(#gO)"/>
<circle cx="842.9" cy="417.9" r="5.4" fill="url(#gH)"/>
<path d="M871.8 421.7L879.3 452.7" stroke="#b86464" stroke-width="3.6" stroke-linecap="round"/><path d="M871.8 421.7L879.3 452.7" stroke="#f59c9c" stroke-width="2.2" stroke-linecap="round"/>
<path d="M878.8 460.0L877.5 498.0" stroke="#a84404" stroke-width="3.6" stroke-linecap="round"/><path d="M878.8 460.0L877.5 498.0" stroke="#f07410" stroke-width="2.2" stroke-linecap="round"/>
<circle cx="879.3" cy="452.7" r="12.6" fill="url(#gO)"/>
<circle cx="871.8" cy="421.7" r="5.4" fill="url(#gH)"/>
<path d="M928.7 448.1L922.3 469.6" stroke="#8e0a02" stroke-width="3.6" stroke-linecap="round"/><path d="M928.7 448.1L922.3 469.6" stroke="#da1c12" stroke-width="2.2" stroke-linecap="round"/><path d="M922.3 469.6L915.9 491.0" stroke="#a84404" stroke-width="3.6" stroke-linecap="round"/><path d="M922.3 469.6L915.9 491.0" stroke="#f07410" stroke-width="2.2" stroke-linecap="round"/>
<circle cx="627.8" cy="499.5" r="14.0" fill="url(#gS)"/>
<path d="M656.0 527.7L667.5 534.1" stroke="#94640a" stroke-width="3.6" stroke-linecap="round"/><path d="M656.0 527.7L667.5 534.1" stroke="#d6a012" stroke-width="2.2" stroke-linecap="round"/>
<path d="M653.4 537.9L676.5 548.2" stroke="#94640a" stroke-width="3.6" stroke-linecap="round"/><path d="M653.4 537.9L676.5 548.2" stroke="#d6a012" stroke-width="2.2" stroke-linecap="round"/>
<circle cx="630.4" cy="526.4" r="24.3" fill="url(#gC)"/>
<path d="M629.1 539.2L629.6 549.5" stroke="#6a3c02" stroke-width="3.6" stroke-linecap="round"/><path d="M629.1 539.2L629.6 549.5" stroke="#b07410" stroke-width="2.2" stroke-linecap="round"/>
<circle cx="702.5" cy="529.5" r="7.5" fill="url(#gS3)"/>
<circle cx="746.4" cy="534.1" r="12.3" fill="url(#gO)"/>
<circle cx="682.9" cy="545.6" r="22.5" fill="url(#gC)"/>
<path d="M640.6 546.9L661.1 544.3" stroke="#94640a" stroke-width="3.6" stroke-linecap="round"/><path d="M640.6 546.9L661.1 544.3" stroke="#d6a012" stroke-width="2.2" stroke-linecap="round"/>
<path d="M640.6 554.6L661.1 550.7" stroke="#94640a" stroke-width="3.6" stroke-linecap="round"/><path d="M640.6 554.6L661.1 550.7" stroke="#d6a012" stroke-width="2.2" stroke-linecap="round"/>
<circle cx="689.3" cy="555.9" r="20.5" fill="url(#gS)"/>
<circle cx="629.1" cy="571.2" r="20.5" fill="url(#gS)"/>
<path d="M621.0 562.0L625.5 567.5" stroke="#6a3c02" stroke-width="3.6" stroke-linecap="round"/><path d="M621.0 562.0L625.5 567.5" stroke="#b07410" stroke-width="2.2" stroke-linecap="round"/>
<path d="M648.3 564.8L693.1 553.3" stroke="#94640a" stroke-width="3.6" stroke-linecap="round"/><path d="M648.3 564.8L693.1 553.3" stroke="#d6a012" stroke-width="2.2" stroke-linecap="round"/>
<path d="M697.0 576.4L706.0 619.9" stroke="#94640a" stroke-width="3.6" stroke-linecap="round"/><path d="M697.0 576.4L706.0 619.9" stroke="#d6a012" stroke-width="2.2" stroke-linecap="round"/>
<path d="M702.1 572.5L722.6 602.0" stroke="#94640a" stroke-width="3.6" stroke-linecap="round"/><path d="M702.1 572.5L722.6 602.0" stroke="#d6a012" stroke-width="2.2" stroke-linecap="round"/>
<path d="M707.2 571.2L708.5 617.4" stroke="#94640a" stroke-width="3.6" stroke-linecap="round"/><path d="M707.2 571.2L708.5 617.4" stroke="#d6a012" stroke-width="2.2" stroke-linecap="round"/>
<path d="M721.3 568.0L727.0 608.4" stroke="#94640a" stroke-width="3.6" stroke-linecap="round"/><path d="M721.3 568.0L727.0 608.4" stroke="#d6a012" stroke-width="2.2" stroke-linecap="round"/>
<path d="M777.7 558.4L743.1 598.1" stroke="#94640a" stroke-width="3.6" stroke-linecap="round"/><path d="M777.7 558.4L743.1 598.1" stroke="#d6a012" stroke-width="2.2" stroke-linecap="round"/>
<circle cx="717.5" cy="546.1" r="25.0" fill="url(#gC)"/>
<path d="M704.7 540.5L715.7 545.1" stroke="#6a6400" stroke-width="3.6" stroke-linecap="round"/><path d="M704.7 540.5L715.7 545.1" stroke="#c4bc10" stroke-width="2.2" stroke-linecap="round"/>
<path d="M756.0 529.0L782.0 517.5" stroke="#8e0a02" stroke-width="3.6" stroke-linecap="round"/><path d="M756.0 529.0L782.0 517.5" stroke="#da1c12" stroke-width="2.2" stroke-linecap="round"/>
<path d="M740.5 536.6L782.0 521.8" stroke="#94640a" stroke-width="3.6" stroke-linecap="round"/><path d="M740.5 536.6L782.0 521.8" stroke="#d6a012" stroke-width="2.2" stroke-linecap="round"/>
<path d="M755.9 541.8L768.0 541.8" stroke="#94640a" stroke-width="3.6" stroke-linecap="round"/><path d="M755.9 541.8L768.0 541.8" stroke="#d6a012" stroke-width="2.2" stroke-linecap="round"/>
<path d="M627.0 588.0L621.0 603.0" stroke="#94640a" stroke-width="3.6" stroke-linecap="round"/><path d="M627.0 588.0L621.0 603.0" stroke="#d6a012" stroke-width="2.2" stroke-linecap="round"/>
<circle cx="703.4" cy="635.5" r="16.0" fill="url(#gC)"/>
<path d="M748.0 622.0L780.0 633.0" stroke="#94640a" stroke-width="3.1" stroke-linecap="round"/><path d="M748.0 622.0L780.0 633.0" stroke="#d6a012" stroke-width="1.9" stroke-linecap="round"/>
<path d="M758.0 632.0L775.0 632.0" stroke="#94640a" stroke-width="3.1" stroke-linecap="round"/><path d="M758.0 632.0L775.0 632.0" stroke="#d6a012" stroke-width="1.9" stroke-linecap="round"/>
<circle cx="730.3" cy="614.2" r="20.0" fill="url(#gS)"/>
<circle cx="729.5" cy="627.5" r="20.0" fill="url(#gS)"/>
<circle cx="790.4" cy="543.1" r="24.8" fill="url(#gC)"/>
<path d="M800.6 477.0L800.6 494.0" stroke="#a84404" stroke-width="3.6" stroke-linecap="round"/><path d="M800.6 477.0L800.6 494.0" stroke="#f07410" stroke-width="2.2" stroke-linecap="round"/>
<circle cx="827.5" cy="502.1" r="24.8" fill="url(#gC)"/>
<path d="M816.0 534.1L859.6 522.6" stroke="#94640a" stroke-width="3.6" stroke-linecap="round"/><path d="M816.0 534.1L859.6 522.6" stroke="#d6a012" stroke-width="2.2" stroke-linecap="round"/>
<circle cx="831.9" cy="539.2" r="12.3" fill="url(#gO)"/>
<path d="M828.8 518.7L830.1 539.2" stroke="#6a3c02" stroke-width="3.6" stroke-linecap="round"/><path d="M828.8 518.7L830.1 539.2" stroke="#b07410" stroke-width="2.2" stroke-linecap="round"/>
<circle cx="849.3" cy="561.0" r="16.0" fill="url(#gS)"/>
<circle cx="799.9" cy="513.6" r="20.5" fill="url(#gS)"/>
<path d="M803.2 546.9L813.4 550.7" stroke="#6a3c02" stroke-width="3.6" stroke-linecap="round"/><path d="M803.2 546.9L813.4 550.7" stroke="#b07410" stroke-width="2.2" stroke-linecap="round"/>
<path d="M812.2 531.5L822.4 548.2" stroke="#a0a000" stroke-width="3.4" stroke-linecap="round"/><path d="M812.2 531.5L822.4 548.2" stroke="#f2f220" stroke-width="2.0" stroke-linecap="round"/>
<path d="M851.9 558.4L921.0 549.5" stroke="#94640a" stroke-width="3.6" stroke-linecap="round"/><path d="M851.9 558.4L921.0 549.5" stroke="#d6a012" stroke-width="2.2" stroke-linecap="round"/>
<circle cx="831.9" cy="561.0" r="20.5" fill="url(#gS)"/>
<circle cx="874.9" cy="516.2" r="20.0" fill="url(#gS)"/>
<path d="M851.9 503.3L890.3 505.9" stroke="#94640a" stroke-width="3.6" stroke-linecap="round"/><path d="M851.9 503.3L890.3 505.9" stroke="#d6a012" stroke-width="2.2" stroke-linecap="round"/>
<path d="M867.2 529.0L855.7 545.6" stroke="#a0a000" stroke-width="3.4" stroke-linecap="round"/><path d="M867.2 529.0L855.7 545.6" stroke="#f2f220" stroke-width="2.0" stroke-linecap="round"/>
<path d="M921.0 477.0L915.9 491.0" stroke="#a84404" stroke-width="3.6" stroke-linecap="round"/><path d="M921.0 477.0L915.9 491.0" stroke="#f07410" stroke-width="2.2" stroke-linecap="round"/>
<circle cx="909.5" cy="508.5" r="20.5" fill="url(#gS)"/>
<path d="M923.6 523.8L927.8 528.0" stroke="#8e0a02" stroke-width="3.6" stroke-linecap="round"/><path d="M923.6 523.8L927.8 528.0" stroke="#da1c12" stroke-width="2.2" stroke-linecap="round"/>
<circle cx="897.5" cy="531.5" r="12.6" fill="url(#gO)"/>
<path d="M877.5 517.4L894.1 530.2" stroke="#6a3c02" stroke-width="3.6" stroke-linecap="round"/><path d="M877.5 517.4L894.1 530.2" stroke="#b07410" stroke-width="2.2" stroke-linecap="round"/>
<path d="M912.1 518.7L918.5 548.2" stroke="#6a3c02" stroke-width="3.6" stroke-linecap="round"/><path d="M912.1 518.7L918.5 548.2" stroke="#b07410" stroke-width="2.2" stroke-linecap="round"/>
<path d="M921.0 549.5L935.1 546.9" stroke="#6a3c02" stroke-width="3.4" stroke-linecap="round"/><path d="M921.0 549.5L935.1 546.9" stroke="#b07410" stroke-width="2.0" stroke-linecap="round"/>
<path d="M935.1 546.9L914.6 534.1" stroke="#6a3c02" stroke-width="3.4" stroke-linecap="round"/><path d="M935.1 546.9L914.6 534.1" stroke="#b07410" stroke-width="2.0" stroke-linecap="round"/>
<path d="M908.2 539.2L921.0 550.7" stroke="#5e0e00" stroke-width="3.4" stroke-linecap="round"/><path d="M908.2 539.2L921.0 550.7" stroke="#b02808" stroke-width="2.0" stroke-linecap="round"/>
<path d="M827.5 581.5L816.0 625.0" stroke="#94640a" stroke-width="3.6" stroke-linecap="round"/><path d="M827.5 581.5L816.0 625.0" stroke="#d6a012" stroke-width="2.2" stroke-linecap="round"/>
<path d="M835.2 582.8L822.4 625.0" stroke="#94640a" stroke-width="3.6" stroke-linecap="round"/><path d="M835.2 582.8L822.4 625.0" stroke="#d6a012" stroke-width="2.2" stroke-linecap="round"/>
<circle cx="821.1" cy="639.0" r="16.0" fill="url(#gC)"/>
<circle cx="919.0" cy="648.0" r="25.0" fill="url(#gC)"/>
<circle cx="791.7" cy="623.8" r="20.5" fill="url(#gS)"/>
<path d="M796.8 521.3L790.9 541.8" stroke="#6a3c02" stroke-width="3.6" stroke-linecap="round"/><path d="M796.8 521.3L790.9 541.8" stroke="#b07410" stroke-width="2.2" stroke-linecap="round"/>
<path d="M790.9 541.8L790.9 604.5" stroke="#6a3c02" stroke-width="3.6" stroke-linecap="round"/><path d="M790.9 541.8L790.9 604.5" stroke="#b07410" stroke-width="2.2" stroke-linecap="round"/>
<ellipse cx="764.9" cy="410.0" rx="108.2" ry="43.6" transform="rotate(-7.5 764.9 410.0)" fill="none" stroke="#23468a" stroke-width="2.9" stroke-dasharray="9 2.9"/>
</g>
<rect x="621.0" y="329.0" width="38.0" height="36.0" fill="#ffffff"/>
<text x="621.4" y="357.3" font-family="Liberation Sans, Arial, sans-serif" font-size="30.3">(d)</text>
<clipPath id="cpe"><rect x="941.0" y="328.2" width="317.1" height="304.6"/></clipPath>
<rect x="941.0" y="328.2" width="317.1" height="304.6" fill="#f0f0f0"/>
<g clip-path="url(#cpe)">
<circle cx="951.1" cy="359.5" r="12.6" fill="url(#gO)"/>
<path d="M1012.6 346.9L981.1 362.3" stroke="#b86464" stroke-width="3.6" stroke-linecap="round"/><path d="M1012.6 346.9L981.1 362.3" stroke="#f59c9c" stroke-width="2.2" stroke-linecap="round"/>
<path d="M1012.6 346.9L1031.3 334.9" stroke="#000000" stroke-width="3.8" stroke-linecap="round"/><path d="M1012.6 346.9L1031.3 334.9" stroke="#1a1a1a" stroke-width="2.3" stroke-linecap="round"/>
<path d="M1009.3 376.9L1029.7 347.7" stroke="#b86464" stroke-width="3.6" stroke-linecap="round"/><path d="M1009.3 376.9L1029.7 347.7" stroke="#f59c9c" stroke-width="2.2" stroke-linecap="round"/>
<circle cx="981.1" cy="362.3" r="5.2" fill="url(#gH)"/>
<circle cx="1012.6" cy="346.9" r="12.6" fill="url(#gO)"/>
<circle cx="1031.3" cy="334.9" r="5.4" fill="url(#gH)"/>
<circle cx="1029.7" cy="347.7" r="5.4" fill="url(#gH)"/>
<path d="M1009.3 376.9L985.7 377.6" stroke="#000000" stroke-width="3.6" stroke-linecap="round"/><path d="M1009.3 376.9L985.7 377.6" stroke="#1a1a1a" stroke-width="2.2" stroke-linecap="round"/>
<circle cx="1009.3" cy="376.9" r="12.6" fill="url(#gO)"/>
<circle cx="985.7" cy="377.6" r="5.4" fill="url(#gH)"/>
<circle cx="1093.8" cy="335.4" r="13.0" fill="url(#gO)"/>
<path d="M1125.2 367.4L1164.9 373.3" stroke="#b86464" stroke-width="3.6" stroke-linecap="round"/><path d="M1125.2 367.4L1164.9 373.3" stroke="#f59c9c" stroke-width="2.2" stroke-linecap="round"/>
<path d="M1125.2 367.4L1114.9 401.5" stroke="#b86464" stroke-width="3.6" stroke-linecap="round"/><path d="M1125.2 367.4L1114.9 401.5" stroke="#f59c9c" stroke-width="2.2" stroke-linecap="round"/>
<circle cx="1125.2" cy="367.4" r="12.6" fill="url(#gO)"/>
<circle cx="1164.9" cy="373.3" r="5.4" fill="url(#gH)"/>
<circle cx="1114.9" cy="401.5" r="5.4" fill="url(#gH)"/>
<path d="M1215.0 344.5L1246.9 351.3" stroke="#8e0a02" stroke-width="3.6" stroke-linecap="round"/><path d="M1215.0 344.5L1246.9 351.3" stroke="#da1c12" stroke-width="2.2" stroke-linecap="round"/>
<circle cx="1209.2" cy="345.1" r="12.6" fill="url(#gO)"/>
<circle cx="1234.8" cy="372.5" r="12.6" fill="url(#gO)"/>
<circle cx="1229.0" cy="398.7" r="12.6" fill="url(#gO)"/>
<path d="M1229.6 382.5L1229.0 388.5" stroke="#160000" stroke-width="2.0" stroke-linecap="round"/><path d="M1229.6 382.5L1229.0 388.5" stroke="#3a0404" stroke-width="1.2" stroke-linecap="round"/>
<path d="M1233.2 382.5L1232.6 388.5" stroke="#160000" stroke-width="2.0" stroke-linecap="round"/><path d="M1233.2 382.5L1232.6 388.5" stroke="#3a0404" stroke-width="1.2" stroke-linecap="round"/>
<path d="M948.8 458.0L948.0 486.0" stroke="#a84404" stroke-width="3.1" stroke-linecap="round"/><path d="M948.8 458.0L948.0 486.0" stroke="#f07410" stroke-width="1.9" stroke-linecap="round"/>
<path d="M952.4 458.0L951.8 486.0" stroke="#a84404" stroke-width="3.1" stroke-linecap="round"/><path d="M952.4 458.0L951.8 486.0" stroke="#f07410" stroke-width="1.9" stroke-linecap="round"/>
<circle cx="952.9" cy="450.7" r="12.6" fill="url(#gO)"/>
<circle cx="1008.7" cy="473.7" r="12.6" fill="url(#gO)"/>
<path d="M1002.3 423.8L1016.4 457.1" stroke="#b86464" stroke-width="3.6" stroke-linecap="round"/><path d="M1002.3 423.8L1016.4 457.1" stroke="#f59c9c" stroke-width="2.2" stroke-linecap="round"/>
<circle cx="1016.4" cy="457.1" r="12.6" fill="url(#gO)"/>
<circle cx="1015.1" cy="440.4" r="4.6" fill="url(#gH)"/>
<circle cx="1002.3" cy="423.8" r="5.4" fill="url(#gH)"/>
<path d="M1072.0 476.0L1057.0 497.4" stroke="#8e0a02" stroke-width="3.6" stroke-linecap="round"/><path d="M1072.0 476.0L1057.0 497.4" stroke="#da1c12" stroke-width="2.2" stroke-linecap="round"/><path d="M1057.0 497.4L1042.0 518.7" stroke="#a84404" stroke-width="3.6" stroke-linecap="round"/><path d="M1057.0 497.4L1042.0 518.7" stroke="#f07410" stroke-width="2.2" stroke-linecap="round"/>
<path d="M1077.0 416.0L1088.5 434.5" stroke="#10a0a0" stroke-width="3.2" stroke-linecap="round"/><path d="M1077.0 416.0L1088.5 434.5" stroke="#24eaea" stroke-width="1.9" stroke-linecap="round"/>
<circle cx="1075.2" cy="411.8" r="5.6" fill="url(#gY)"/>
<circle cx="1093.4" cy="443.3" r="13.0" fill="url(#gD)"/>
<path d="M1090.6 448.1L1085.2 456.0" stroke="#10a0a0" stroke-width="3.2" stroke-linecap="round"/><path d="M1090.6 448.1L1085.2 456.0" stroke="#24eaea" stroke-width="1.9" stroke-linecap="round"/>
<circle cx="1078.0" cy="465.6" r="13.0" fill="url(#gD)"/>
<path d="M1085.7 463.5L1095.5 460.5" stroke="#0a4848" stroke-width="3.1" stroke-linecap="round"/><path d="M1085.7 463.5L1095.5 460.5" stroke="#128080" stroke-width="1.9" stroke-linecap="round"/>
<circle cx="1099.7" cy="458.6" r="5.0" fill="url(#gY)"/>
<path d="M1113.6 468.0L1113.6 498.0" stroke="#a84404" stroke-width="3.1" stroke-linecap="round"/><path d="M1113.6 468.0L1113.6 498.0" stroke="#f07410" stroke-width="1.9" stroke-linecap="round"/>
<path d="M1116.8 468.0L1116.8 498.0" stroke="#a84404" stroke-width="3.1" stroke-linecap="round"/><path d="M1116.8 468.0L1116.8 498.0" stroke="#f07410" stroke-width="1.9" stroke-linecap="round"/>
<circle cx="1115.4" cy="460.4" r="12.6" fill="url(#gO)"/>
<path d="M1152.1 398.1L1136.7 430.2" stroke="#b86464" stroke-width="3.6" stroke-linecap="round"/><path d="M1152.1 398.1L1136.7 430.2" stroke="#f59c9c" stroke-width="2.2" stroke-linecap="round"/>
<path d="M1138.0 443.0L1143.6 478.0" stroke="#8e0a02" stroke-width="3.6" stroke-linecap="round"/><path d="M1138.0 443.0L1143.6 478.0" stroke="#da1c12" stroke-width="2.2" stroke-linecap="round"/>
<circle cx="1136.7" cy="430.2" r="12.6" fill="url(#gO)"/>
<circle cx="1152.1" cy="398.1" r="5.4" fill="url(#gH)"/>
<path d="M1218.7 416.1L1216.1 446.8" stroke="#b86464" stroke-width="3.6" stroke-linecap="round"/><path d="M1218.7 416.1L1216.1 446.8" stroke="#f59c9c" stroke-width="2.2" stroke-linecap="round"/>
<path d="M1212.3 459.6L1203.3 490.0" stroke="#a84404" stroke-width="3.6" stroke-linecap="round"/><path d="M1212.3 459.6L1203.3 490.0" stroke="#f07410" stroke-width="2.2" stroke-linecap="round"/>
<circle cx="1216.1" cy="446.8" r="12.6" fill="url(#gO)"/>
<circle cx="1218.7" cy="416.1" r="5.4" fill="url(#gH)"/>
<path d="M1010.0 486.0L1013.9 518.0" stroke="#a84404" stroke-width="3.6" stroke-linecap="round"/><path d="M1010.0 486.0L1013.9 518.0" stroke="#f07410" stroke-width="2.2" stroke-linecap="round"/>
<circle cx="952.4" cy="505.9" r="19.2" fill="url(#gS)"/>
<path d="M970.3 517.4L1006.2 531.5" stroke="#94640a" stroke-width="3.6" stroke-linecap="round"/><path d="M970.3 517.4L1006.2 531.5" stroke="#d6a012" stroke-width="2.2" stroke-linecap="round"/>
<circle cx="946.5" cy="538.0" r="21.0" fill="url(#gC)"/>
<circle cx="1006.2" cy="534.1" r="12.0" fill="url(#gS3)"/>
<circle cx="1069.0" cy="536.6" r="12.6" fill="url(#gO)"/>
<circle cx="1025.4" cy="534.1" r="20.0" fill="url(#gC)"/>
<path d="M966.5 540.5L995.9 540.0" stroke="#94640a" stroke-width="3.6" stroke-linecap="round"/><path d="M966.5 540.5L995.9 540.0" stroke="#d6a012" stroke-width="2.2" stroke-linecap="round"/>
<path d="M966.5 546.9L1003.6 545.1" stroke="#94640a" stroke-width="3.6" stroke-linecap="round"/><path d="M966.5 546.9L1003.6 545.1" stroke="#d6a012" stroke-width="2.2" stroke-linecap="round"/>
<path d="M969.0 546.9L997.2 555.9" stroke="#94640a" stroke-width="3.6" stroke-linecap="round"/><path d="M969.0 546.9L997.2 555.9" stroke="#d6a012" stroke-width="2.2" stroke-linecap="round"/>
<circle cx="1013.9" cy="561.0" r="20.5" fill="url(#gS)"/>
<circle cx="954.5" cy="570.0" r="19.0" fill="url(#gS)"/>
<path d="M971.6 564.8L1008.7 554.6" stroke="#94640a" stroke-width="3.6" stroke-linecap="round"/><path d="M971.6 564.8L1008.7 554.6" stroke="#d6a012" stroke-width="2.2" stroke-linecap="round"/>
<path d="M1020.3 580.0L1025.4 627.6" stroke="#94640a" stroke-width="3.6" stroke-linecap="round"/><path d="M1020.3 580.0L1025.4 627.6" stroke="#d6a012" stroke-width="2.2" stroke-linecap="round"/>
<path d="M1038.2 570.0L1047.2 607.1" stroke="#94640a" stroke-width="3.6" stroke-linecap="round"/><path d="M1038.2 570.0L1047.2 607.1" stroke="#d6a012" stroke-width="2.2" stroke-linecap="round"/>
<path d="M1101.0 564.8L1063.8 603.3" stroke="#94640a" stroke-width="3.6" stroke-linecap="round"/><path d="M1101.0 564.8L1063.8 603.3" stroke="#d6a012" stroke-width="2.2" stroke-linecap="round"/>
<circle cx="1032.3" cy="548.2" r="25.0" fill="url(#gC)"/>
<path d="M1016.4 540.0L1028.7 546.9" stroke="#6a6400" stroke-width="3.6" stroke-linecap="round"/><path d="M1016.4 540.0L1028.7 546.9" stroke="#c4bc10" stroke-width="2.2" stroke-linecap="round"/>
<path d="M1057.4 539.2L1093.3 526.4" stroke="#94640a" stroke-width="3.6" stroke-linecap="round"/><path d="M1057.4 539.2L1093.3 526.4" stroke="#d6a012" stroke-width="2.2" stroke-linecap="round"/>
<path d="M1079.2 544.3L1090.7 545.6" stroke="#94640a" stroke-width="3.6" stroke-linecap="round"/><path d="M1079.2 544.3L1090.7 545.6" stroke="#d6a012" stroke-width="2.2" stroke-linecap="round"/>
<path d="M946.0 589.2L941.0 608.0" stroke="#94640a" stroke-width="3.6" stroke-linecap="round"/><path d="M946.0 589.2L941.0 608.0" stroke="#d6a012" stroke-width="2.2" stroke-linecap="round"/>
<circle cx="1019.0" cy="636.0" r="16.0" fill="url(#gC)"/>
<path d="M1070.0 626.0L1101.0 632.0" stroke="#94640a" stroke-width="3.1" stroke-linecap="round"/><path d="M1070.0 626.0L1101.0 632.0" stroke="#d6a012" stroke-width="1.9" stroke-linecap="round"/>
<circle cx="1049.7" cy="616.1" r="20.0" fill="url(#gS)"/>
<circle cx="1051.0" cy="625.0" r="20.0" fill="url(#gS)"/>
<circle cx="1111.1" cy="548.2" r="24.3" fill="url(#gC)"/>
<path d="M1114.9 477.0L1113.7 498.2" stroke="#a84404" stroke-width="3.6" stroke-linecap="round"/><path d="M1114.9 477.0L1113.7 498.2" stroke="#f07410" stroke-width="2.2" stroke-linecap="round"/>
<circle cx="1146.2" cy="500.8" r="25.0" fill="url(#gC)"/>
<path d="M1138.0 536.6L1180.3 517.4" stroke="#94640a" stroke-width="3.6" stroke-linecap="round"/><path d="M1138.0 536.6L1180.3 517.4" stroke="#d6a012" stroke-width="2.2" stroke-linecap="round"/>
<circle cx="1157.2" cy="540.0" r="12.3" fill="url(#gO)"/>
<path d="M1149.5 518.7L1154.6 540.5" stroke="#6a3c02" stroke-width="3.6" stroke-linecap="round"/><path d="M1149.5 518.7L1154.6 540.5" stroke="#b07410" stroke-width="2.2" stroke-linecap="round"/>
<circle cx="1177.7" cy="563.5" r="18.0" fill="url(#gS)"/>
<circle cx="1113.7" cy="518.7" r="20.5" fill="url(#gS)"/>
<path d="M1130.0 552.0L1139.3 554.6" stroke="#6a3c02" stroke-width="3.6" stroke-linecap="round"/><path d="M1130.0 552.0L1139.3 554.6" stroke="#b07410" stroke-width="2.2" stroke-linecap="round"/>
<path d="M1127.7 534.1L1143.1 550.7" stroke="#a0a000" stroke-width="3.4" stroke-linecap="round"/><path d="M1127.7 534.1L1143.1 550.7" stroke="#f2f220" stroke-width="2.0" stroke-linecap="round"/>
<path d="M1173.9 560.5L1255.9 540.5" stroke="#94640a" stroke-width="3.6" stroke-linecap="round"/><path d="M1173.9 560.5L1255.9 540.5" stroke="#d6a012" stroke-width="2.2" stroke-linecap="round"/>
<circle cx="1155.4" cy="563.5" r="20.5" fill="url(#gS)"/>
<path d="M1207.2 477.0L1203.3 489.2" stroke="#a84404" stroke-width="3.6" stroke-linecap="round"/><path d="M1207.2 477.0L1203.3 489.2" stroke="#f07410" stroke-width="2.2" stroke-linecap="round"/>
<circle cx="1198.2" cy="508.5" r="20.5" fill="url(#gS)"/>
<path d="M1172.6 503.3L1204.0 505.0" stroke="#94640a" stroke-width="3.6" stroke-linecap="round"/><path d="M1172.6 503.3L1204.0 505.0" stroke="#d6a012" stroke-width="2.2" stroke-linecap="round"/>
<path d="M1204.0 505.0L1235.4 506.7" stroke="#a0a000" stroke-width="3.4" stroke-linecap="round"/><path d="M1204.0 505.0L1235.4 506.7" stroke="#f2f220" stroke-width="2.0" stroke-linecap="round"/>
<path d="M1255.9 540.5L1230.2 526.4" stroke="#6a3c02" stroke-width="3.4" stroke-linecap="round"/><path d="M1255.9 540.5L1230.2 526.4" stroke="#b07410" stroke-width="2.0" stroke-linecap="round"/>
<circle cx="1219.2" cy="525.1" r="12.6" fill="url(#gO)"/>
<path d="M1199.5 509.7L1216.1 523.8" stroke="#6a3c02" stroke-width="3.6" stroke-linecap="round"/><path d="M1199.5 509.7L1216.1 523.8" stroke="#b07410" stroke-width="2.2" stroke-linecap="round"/>
<path d="M1229.0 534.1L1243.0 549.5" stroke="#5e0e00" stroke-width="3.4" stroke-linecap="round"/><path d="M1229.0 534.1L1243.0 549.5" stroke="#b02808" stroke-width="2.0" stroke-linecap="round"/>
<path d="M1150.8 582.8L1143.1 618.6" stroke="#94640a" stroke-width="3.6" stroke-linecap="round"/><path d="M1150.8 582.8L1143.1 618.6" stroke="#d6a012" stroke-width="2.2" stroke-linecap="round"/>
<path d="M1164.9 582.8L1145.7 620.0" stroke="#94640a" stroke-width="3.6" stroke-linecap="round"/><path d="M1164.9 582.8L1145.7 620.0" stroke="#d6a012" stroke-width="2.2" stroke-linecap="round"/>
<circle cx="1127.0" cy="622.5" r="7.0" fill="url(#gS)"/>
<circle cx="1141.8" cy="639.0" r="17.0" fill="url(#gC)"/>
<circle cx="1231.5" cy="642.0" r="22.0" fill="url(#gC)"/>
<path d="M1250.0 632.0L1262.0 623.0" stroke="#a0a000" stroke-width="3.4" stroke-linecap="round"/><path d="M1250.0 632.0L1262.0 623.0" stroke="#f2f220" stroke-width="2.0" stroke-linecap="round"/>
<circle cx="1108.5" cy="622.5" r="20.0" fill="url(#gS)"/>
<path d="M1112.4 525.1L1114.9 545.6" stroke="#6a3c02" stroke-width="3.6" stroke-linecap="round"/><path d="M1112.4 525.1L1114.9 545.6" stroke="#b07410" stroke-width="2.2" stroke-linecap="round"/>
<path d="M1114.9 545.6L1108.5 604.5" stroke="#6a3c02" stroke-width="3.6" stroke-linecap="round"/><path d="M1114.9 545.6L1108.5 604.5" stroke="#b07410" stroke-width="2.2" stroke-linecap="round"/>
<ellipse cx="1090.2" cy="439.0" rx="107.4" ry="43.8" transform="rotate(-7.0 1090.2 439.0)" fill="none" stroke="#23468a" stroke-width="2.9" stroke-dasharray="9 2.9"/>
</g>
<rect x="941.0" y="328.2" width="39.2" height="37.0" fill="#ffffff"/>
<text x="941.1" y="357.7" font-family="Liberation Sans, Arial, sans-serif" font-size="30.3">(e)</text>
</svg></body></html>
